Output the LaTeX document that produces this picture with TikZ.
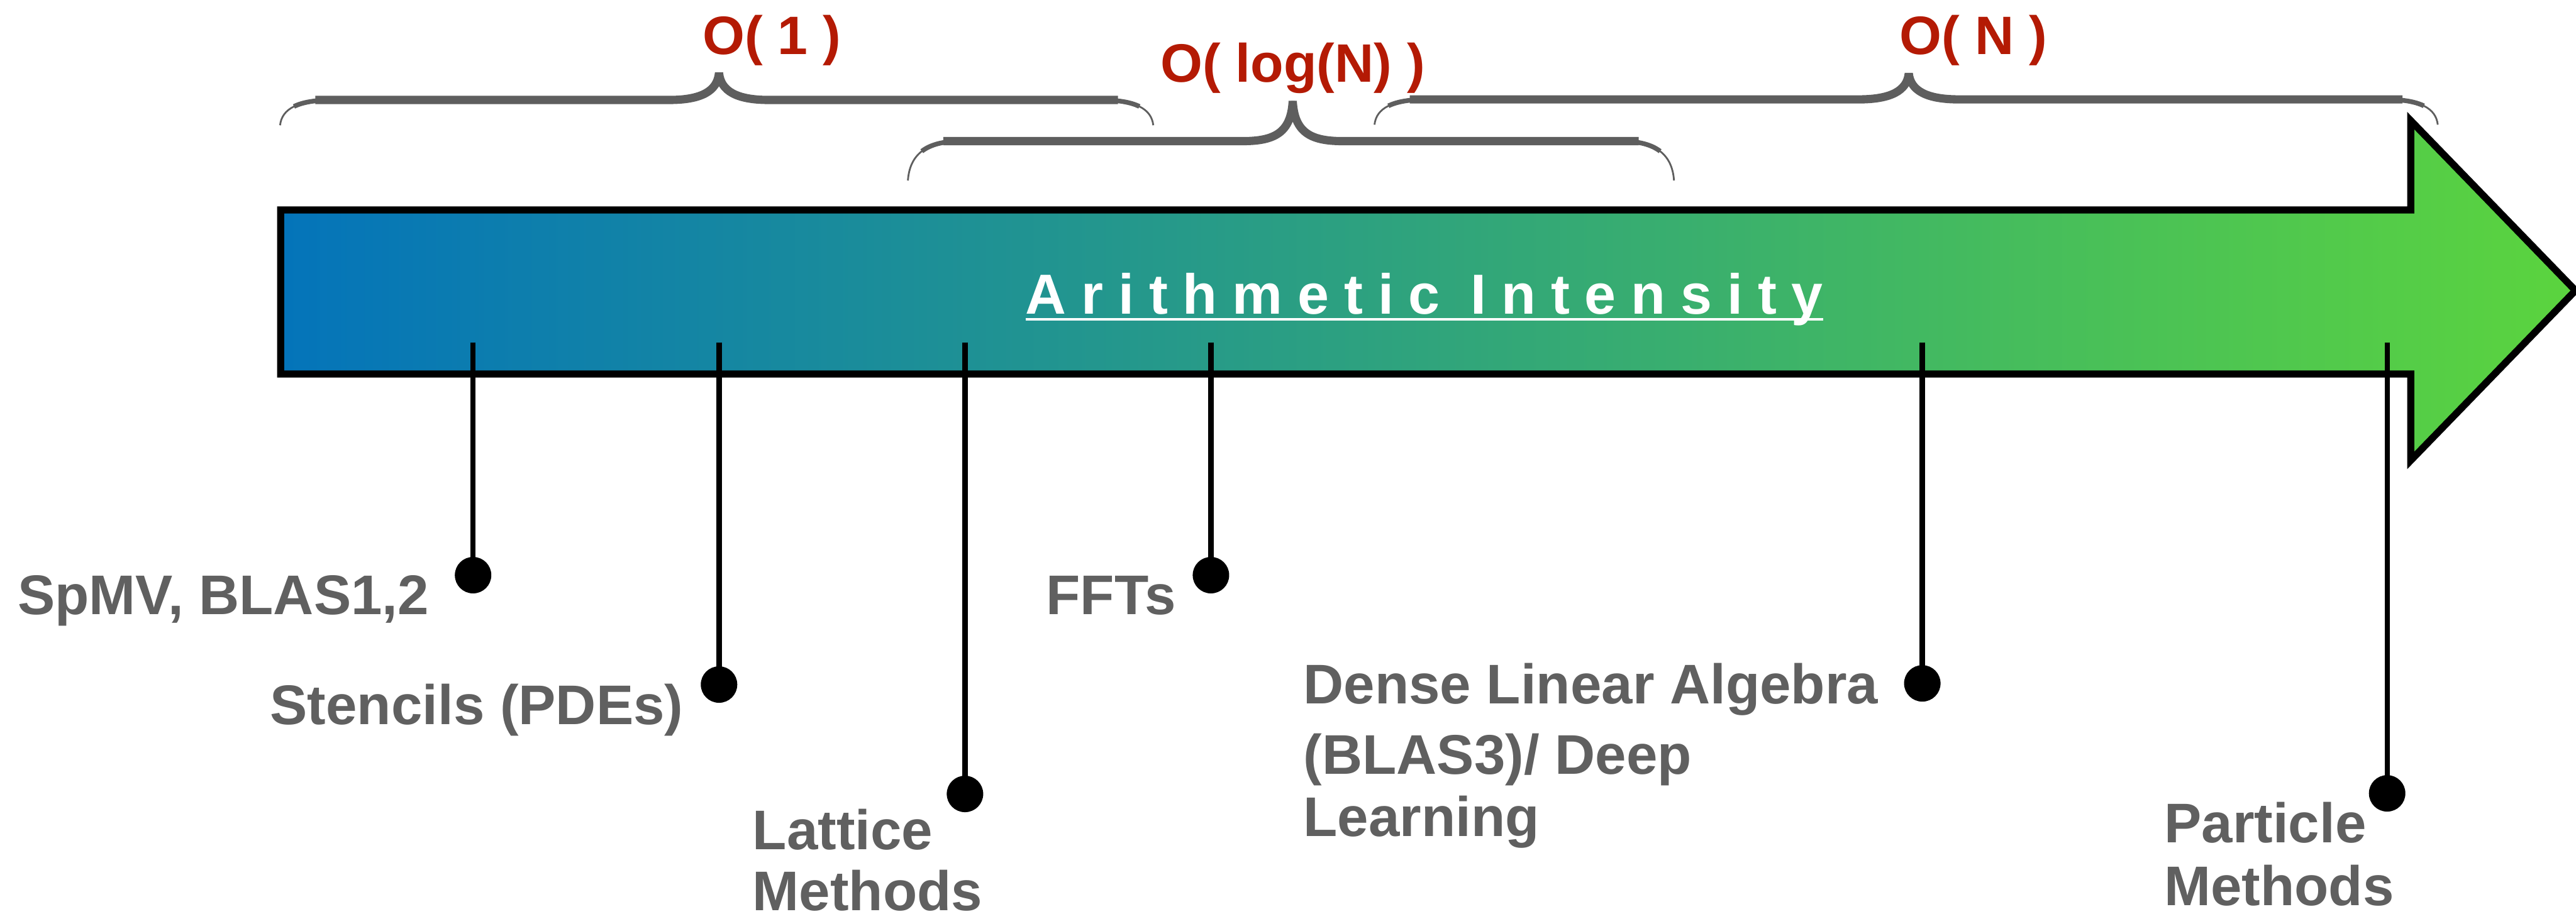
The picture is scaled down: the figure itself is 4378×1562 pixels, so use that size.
\documentclass[tikz,border=0pt]{standalone}
\usepackage{fontspec}
\setmainfont{Liberation Sans}
\definecolor{arrowblue}{RGB}{4,116,186}
\definecolor{arrowgreen}{RGB}{91,212,62}
\definecolor{labelgrey}{RGB}{96,96,96}
\definecolor{bracegrey}{RGB}{94,94,94}
\definecolor{ordred}{RGB}{180,26,4}
\newcommand\lsp{\kern25.5pt\relax}
\newcommand\sketchbrace[6]{%
 \pgfmathsetmacro\bd{#4-#5}%
 \pgfmathsetmacro\bca{#5+0.35*\bd}%
 \pgfmathsetmacro\bsy{#5+0.256*\bd}%
 \pgfmathsetmacro\bry{#5+0.0875*\bd}%
 \pgfmathsetmacro\btc{#5-15}%
 \draw[bthin] (#1,#4) .. controls (#1+3,\bca) and (#1+30,#5) .. (#1+90,#5) -- (#3-85,#5) .. controls (#3-30,#5) and (#3-3,\btc) .. (#3,#6) .. controls (#3+3,\btc) and (#3+30,#5) .. (#3+85,#5) -- (#2-90,#5) .. controls (#2-30,#5) and (#2-3,\bca) .. (#2,#4);
 \draw[bmid] (#1+23.6,\bsy) .. controls (#1+38.25,\bry) and (#1+60,#5) .. (#1+90,#5) -- (#3-85,#5) .. controls (#3-30,#5) and (#3-3,\btc) .. (#3,#6) .. controls (#3+3,\btc) and (#3+30,#5) .. (#3+85,#5) -- (#2-90,#5) .. controls (#2-60,#5) and (#2-38.25,\bry) .. (#2-23.6,\bsy);
 \draw[bthick] (#1+60,#5) -- (#3-85,#5) .. controls (#3-30,#5) and (#3-3,\btc) .. (#3,#6) .. controls (#3+3,\btc) and (#3+30,#5) .. (#3+85,#5) -- (#2-60,#5);
}
\begin{document}
\begin{tikzpicture}[x=1pt,y=-1pt,
  itemlabel/.style={anchor=base west, inner sep=0pt, text=labelgrey, font=\bfseries\fontsize{95}{114}\selectfont},
  ordlabel/.style={anchor=base, inner sep=0pt, text=ordred, font=\bfseries\fontsize{92}{110}\selectfont},
  titletext/.style={anchor=base west, inner sep=0pt, text=white, font=\bfseries\fontsize{96}{115}\selectfont},
  dotnode/.style={circle, fill=black, draw=black, line width=2pt, minimum size=60pt, inner sep=0pt},
  stemline/.style={line width=9pt, black},
  arrowline/.style={line width=12pt, black, line join=miter},
  bthin/.style={bracegrey, line width=3pt, line join=bevel},
  bmid/.style={bracegrey, line width=8pt, line join=bevel},
  bthick/.style={bracegrey, line width=14pt, line join=bevel},
]
\useasboundingbox (0,0) rectangle (4378,1562);
\fill[white] (0,0) rectangle (4378,1562);

% braces
\sketchbrace{476}{1960}{1222}{213}{170}{124}
\sketchbrace{1543}{2845}{2197}{307}{240}{172}
\sketchbrace{2336}{4143}{3244}{212}{169}{125}

% complexity labels
\node[ordlabel] (o1) at (1312,92) {O( 1 )};
\node[ordlabel] (olog) at (2197,140) {O( log(N) )};
\node[ordlabel] (on) at (3354,92) {O( N )};

% main arrow
\shade[left color=arrowblue, right color=arrowgreen]
  (477,357) -- (4097,357) -- (4097,205) -- (4377,494) -- (4097,783) -- (4097,636) -- (477,636) -- cycle;
\draw[arrowline]
  (477,357) -- (4097,357) -- (4097,205) -- (4377,494) -- (4097,783) -- (4097,636) -- (477,636) -- cycle;

% title
\node[titletext] (title) at (1743,534) {A\lsp r\lsp i\lsp t\lsp h\lsp m\lsp e\lsp t\lsp i\lsp c\lsp{} I\lsp n\lsp t\lsp e\lsp n\lsp s\lsp i\lsp t\lsp y};
\draw[white, line width=5pt] ([yshift=-9pt]title.base west) -- ([yshift=-9pt]title.base east);

% stems and dots
\coordinate (s1) at (804,582);
\coordinate (s2) at (1222,582);
\coordinate (s3) at (1640,582);
\coordinate (s4) at (2058,582);
\coordinate (s5) at (3267,582);
\coordinate (s6) at (4057,582);
\node[dotnode] (d1) at (804,978) {};
\node[dotnode] (d2) at (1222,1164) {};
\node[dotnode] (d3) at (1640,1350) {};
\node[dotnode] (d4) at (2058,978) {};
\node[dotnode] (d5) at (3267,1162) {};
\node[dotnode] (d6) at (4057,1349) {};
\draw[stemline] (s1) -- (d1.center);
\draw[stemline] (s2) -- (d2.center);
\draw[stemline] (s3) -- (d3.center);
\draw[stemline] (s4) -- (d4.center);
\draw[stemline] (s5) -- (d5.center);
\draw[stemline] (s6) -- (d6.center);

% item labels
\node[itemlabel] (spmv) at (30,1045) {SpMV, BLAS1,2};
\node[itemlabel] (sten) at (459,1232) {Stencils (PDEs)};
\node[itemlabel] (lat1) at (1279,1444) {Lattice};
\node[itemlabel] (lat2) at (1279,1548) {Methods};
\node[itemlabel] (fft) at (1778,1045) {FFTs};
\node[itemlabel] (dla1) at (2215,1197) {Dense Linear Algebra};
\node[itemlabel] (dla2) at (2215,1316) {(BLAS3)/ Deep};
\node[itemlabel] (dla3) at (2215,1422) {Learning};
\node[itemlabel] (par1) at (3678,1433) {Particle};
\node[itemlabel] (par2) at (3678,1540) {Methods};
\end{tikzpicture}
\end{document}
